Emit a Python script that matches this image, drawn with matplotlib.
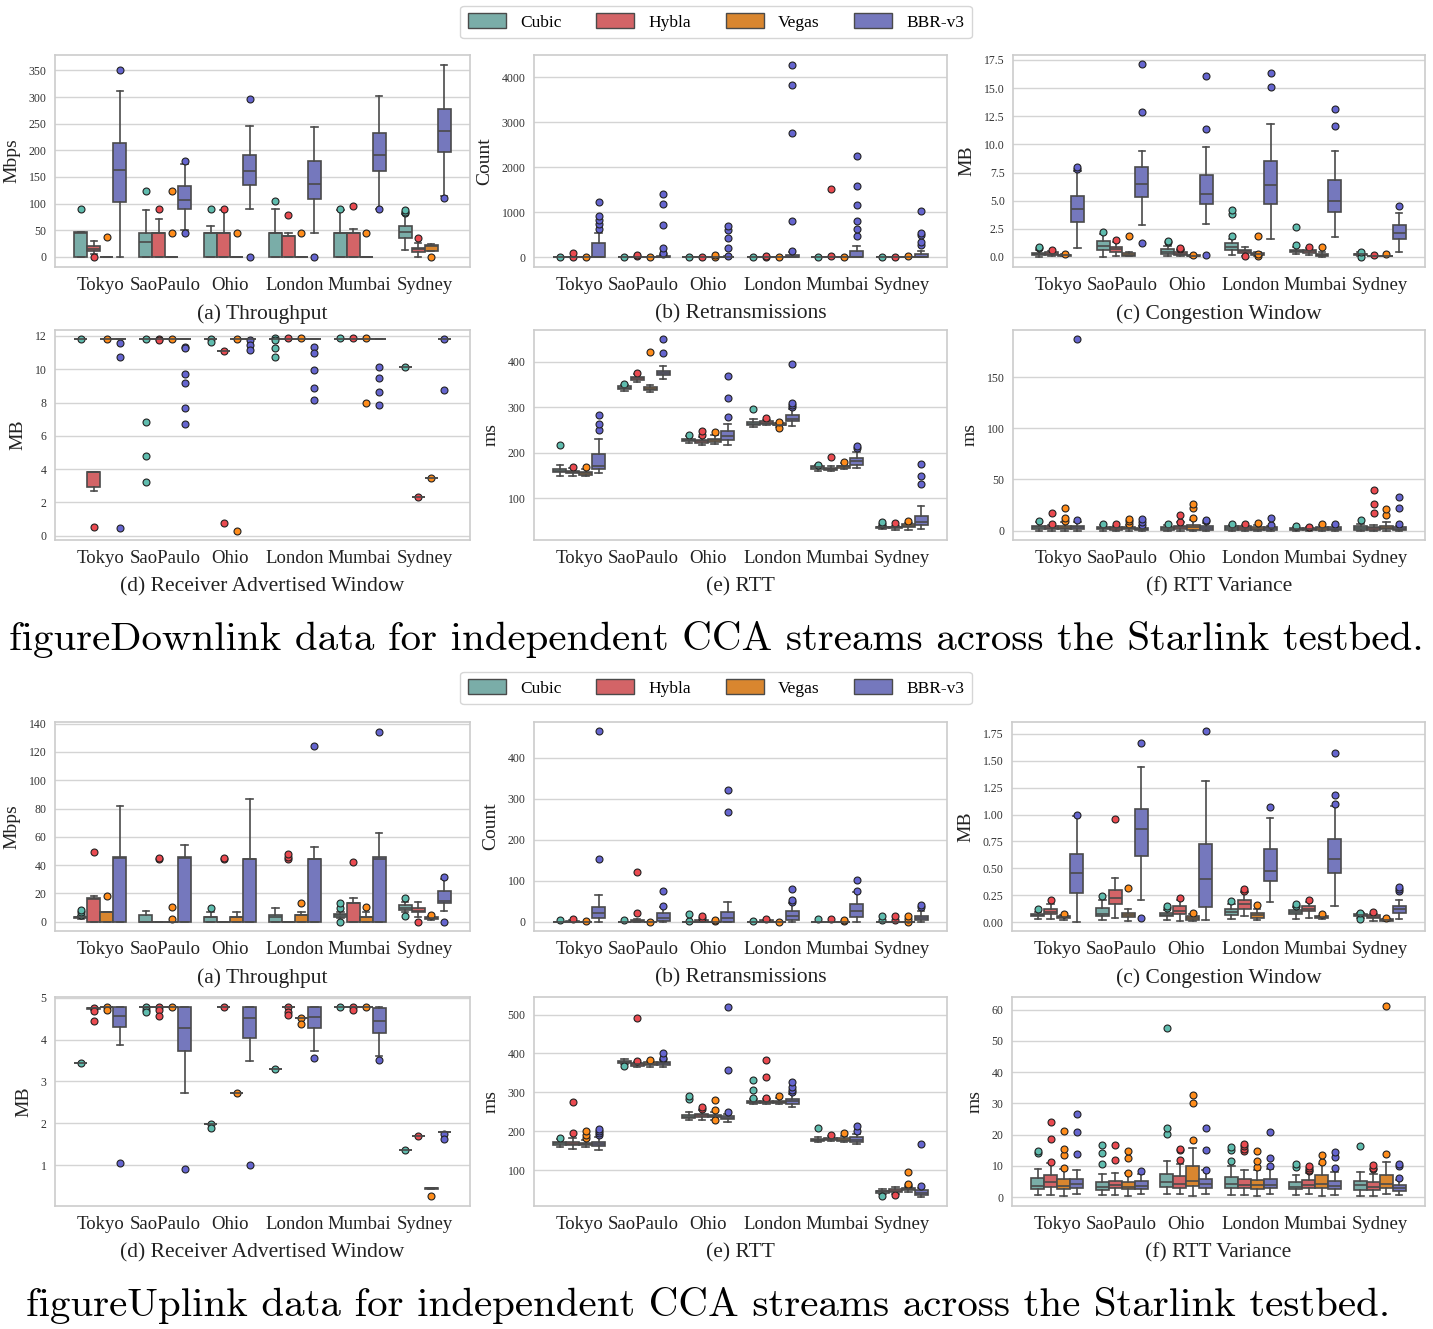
import matplotlib
matplotlib.use("Agg")
import matplotlib.pyplot as plt
from matplotlib.patches import Patch

# ---- data: each box is (whislo, q1, median, q3, whishi, [fliers]) ----
CITIES = ["Tokyo", "SaoPaulo", "Ohio", "London", "Mumbai", "Sydney"]
CCAS = ["Cubic", "Hybla", "Vegas", "BBR-v3"]
BOX_COLORS = ["#7aada8", "#d36467", "#d9862f", "#7578bd"]
DOT_COLORS = ["#5fbcae", "#ea4a50", "#ff8c1a", "#6565cf"]

Z = (0, 0, 0, 0, 0)

# Downlink
dl_tput = {
    "Cubic": [(0, 0, 45, 46, 46, [90]), (0, 0, 28, 45, 88, [123]), (0, 0, 45, 45, 58, [89]),
              (0, 0, 45, 45, 90, [105]), (0, 0, 45, 45, 88, [89]), (12, 36, 47, 58, 80, [82, 85, 88])],
    "Hybla": [(5, 11, 15, 20, 30, [0]), (0, 0, 45, 45, 71, [90]), (0, 0, 45, 45, 88, [90]),
              (0, 0, 39, 39, 44, [79]), (0, 0, 45, 45, 52, [96]), (0, 10, 14, 17, 26, [35])],
    "Vegas": [(*Z, [38]), (*Z, [44, 123]), (*Z, [44]), (*Z, [44]), (*Z, [44]), (11, 11, 21, 22, 24, [0])],
    "BBR-v3": [(0, 103, 163, 213, 312, [351]), (50, 90, 107, 134, 175, [44, 180]),
               (90, 135, 161, 192, 246, [0, 296]), (44, 108, 137, 180, 244, [0]),
               (90, 161, 192, 233, 302, [90]), (115, 196, 237, 278, 361, [110])],
}
dl_retx = {
    "Cubic": [(*Z, [5]), (*Z, [5]), (*Z, [0]), (*Z, [5]), (*Z, [5]), (*Z, [10])],
    "Hybla": [(*Z, [5, 90]), (*Z, [20, 40]), (*Z, [10]), (*Z, [10, 30]), (*Z, [30, 1520]), (*Z, [5])],
    "Vegas": [(*Z, [5]), (*Z, [10]), (*Z, [10, 40]), (*Z, [5]), (*Z, [5]), (*Z, [20])],
    "BBR-v3": [(0, 0, 0, 320, 540, [620, 730, 830, 920, 1230]),
               (0, 0, 0, 20, 40, [60, 100, 200, 720, 1170, 1400]),
               (0, 0, 0, 5, 20, [30, 200, 420, 600, 680]),
               (0, 0, 0, 50, 120, [140, 810, 2770, 3830, 4270]),
               (0, 0, 0, 130, 240, [470, 620, 810, 1160, 1590, 2240]),
               (0, 0, 0, 70, 130, [270, 330, 480, 540, 1020])],
}
dl_cwnd = {
    "Cubic": [(0, 0.15, 0.25, 0.35, 0.6, [0.8, 0.9]), (0, 0.6, 1.0, 1.4, 2.0, [2.2]),
              (0.1, 0.3, 0.45, 0.7, 0.95, [1.3, 1.4]), (0.2, 0.65, 0.9, 1.2, 1.6, [1.85, 3.85, 4.2]),
              (0.3, 0.4, 0.55, 0.65, 0.9, [1.05, 2.65]), (0.05, 0.15, 0.25, 0.3, 0.4, [0.0, 0.45])],
    "Hybla": [(0.1, 0.2, 0.3, 0.4, 0.55, [0.6]), (0.1, 0.45, 0.7, 0.9, 1.35, [1.5]),
              (0.1, 0.2, 0.3, 0.4, 0.6, [0.75, 0.8]), (0.1, 0.35, 0.5, 0.65, 0.9, [0.05]),
              (0.2, 0.35, 0.5, 0.65, 0.8, [0.9]), (0.08, 0.1, 0.1, 0.12, 0.12, [0.15])],
    "Vegas": [(0.05, 0.1, 0.15, 0.2, 0.25, [0.3]), (0.05, 0.1, 0.2, 0.35, 0.4, [1.9]),
              (0.0, 0.05, 0.1, 0.15, 0.2, [0.2]), (0.1, 0.15, 0.25, 0.35, 0.45, [0.05, 0.3, 1.9]),
              (0.0, 0.05, 0.15, 0.3, 0.4, [0.85]), (0.08, 0.1, 0.1, 0.12, 0.12, [0.3])],
    "BBR-v3": [(0.8, 3.1, 4.3, 5.45, 7.6, [7.8, 7.95]), (2.8, 5.35, 6.45, 7.95, 9.45, [1.25, 12.9, 17.1]),
               (2.9, 4.7, 5.6, 7.25, 9.75, [0.15, 11.4, 16.1]), (1.6, 4.7, 6.35, 8.5, 11.85, [15.1, 16.35]),
               (1.8, 4.0, 5.0, 6.8, 9.4, [11.6, 13.1]), (0.45, 1.6, 2.1, 2.8, 3.95, [4.55])],
}
dl_rwnd = {
    "Cubic": [(11.8,) * 5 + ([11.8],), (11.8,) * 5 + ([11.8, 6.85, 4.8, 3.2],), (11.8,) * 5 + ([11.8, 11.65],),
              (11.8,) * 5 + ([11.85, 11.75, 11.25, 10.75],), (11.8,) * 5 + ([11.85],), (10.15,) * 5 + ([10.15],)],
    "Hybla": [(2.7, 2.95, 3.8, 3.8, 3.8, [0.55]), (11.8,) * 5 + ([11.8, 11.75],), (11.1,) * 5 + ([11.1, 0.75],),
              (11.8,) * 5 + ([11.85],), (11.8,) * 5 + ([11.85],), (2.35,) * 5 + ([2.35],)],
    "Vegas": [(11.8,) * 5 + ([11.8],), (11.8,) * 5 + ([11.8],), (11.8,) * 5 + ([11.8, 0.3],),
              (11.8,) * 5 + ([11.85],), (11.8,) * 5 + ([11.85, 8.0],), (3.45,) * 5 + ([3.45],)],
    "BBR-v3": [(11.8,) * 5 + ([11.55, 10.75, 0.45],), (11.8,) * 5 + ([11.35, 11.25, 9.7, 9.2, 7.7, 6.7],),
               (11.8,) * 5 + ([11.75, 11.45, 11.15],), (11.8,) * 5 + ([11.35, 11.0, 9.95, 8.9, 8.15],),
               (11.8,) * 5 + ([10.15, 9.45, 8.65, 7.85],), (11.8,) * 5 + ([11.8, 8.75],)],
}
dl_rtt = {
    "Cubic": [(150, 157, 160, 165, 174, [216]), (336, 340, 343, 346, 349, [352]), (222, 226, 229, 231, 236, [240]),
              (257, 261, 264, 268, 274, [297]), (161, 165, 168, 170, 173, [174]), (32, 34, 36, 38, 40, [44, 48])],
    "Hybla": [(150, 155, 157, 160, 166, [168]), (356, 360, 364, 367, 372, [376]), (218, 221, 225, 228, 234, [240, 248]),
              (260, 263, 266, 269, 272, [277]), (160, 162, 164, 167, 172, [190]), (30, 35, 36, 38, 40, [46])],
    "Vegas": [(148, 152, 155, 158, 164, [168]), (333, 338, 341, 345, 349, [421]), (220, 223, 227, 231, 238, [245]),
              (257, 260, 262, 265, 265, [255, 268]), (164, 167, 170, 172, 177, [180]), (30, 38, 40, 44, 46, [50])],
    "BBR-v3": [(155, 165, 172, 198, 231, [249, 264, 284]), (361, 370, 375, 380, 390, [419, 449]),
               (218, 228, 236, 247, 264, [279, 320, 368]), (259, 269, 275, 284, 297, [300, 304, 309, 394]),
               (167, 174, 181, 188, 201, [211, 215]), (32, 42, 47, 61, 83, [132, 150, 176])],
}
dl_rttvar = {
    "Cubic": [(0, 1.5, 3.5, 5, 8, [9.5]), (0, 1.5, 3, 4, 6, [7]), (0, 1, 2.5, 4, 5.5, [6.5]),
              (0, 1, 3, 4.5, 5.5, [6.5]), (0, 0.5, 2, 3, 4, [5]), (0, 1, 3, 4.5, 7, [10])],
    "Hybla": [(0, 1.5, 3, 5, 6, [7, 17]), (0, 1, 2.5, 3.5, 5, [6.5]), (0, 1.5, 3.5, 5, 8, [8.5, 15]),
              (0, 1, 3, 4.5, 6, [7]), (0, 0.5, 2, 3, 3.5, [4]), (0, 1, 2.5, 4, 6, [17, 26.5, 39.5])],
    "Vegas": [(0, 1.5, 3, 5, 8, [9, 12, 22]), (0, 1.5, 3, 4, 6, [7, 9, 11]), (0, 1, 3.5, 6, 10, [12.5, 22, 26.5]),
              (0, 0.5, 2, 3.5, 6, [7.5]), (0, 1, 2.5, 4, 5.5, [6.5]), (0, 1.5, 3, 5, 8, [15, 21])],
    "BBR-v3": [(0, 1.5, 3.5, 5, 8, [10, 187]), (0, 0.5, 1.5, 3, 5, [6, 8.5, 11]), (0, 1, 3, 4.5, 7.5, [9, 10]),
               (0, 0.5, 2.5, 4, 5, [6, 12]), (0, 0.5, 2, 3.5, 5.5, [6.5]), (0, 0.5, 2, 3.5, 5, [7, 22, 33])],
}

# Uplink
ul_tput = {
    "Cubic": [(2, 2.5, 3, 3.5, 4, [5, 6.5, 8]), (0, 0, 0, 5, 7.5, []), (0, 0, 3, 3.5, 7, [9.5]),
              (0, 0, 3.5, 5, 10, []), (2.5, 3.5, 4.5, 5.5, 6.5, [0, 9.5, 13.5]), (6.5, 8, 10, 11.5, 14, [4, 16.5])],
    "Hybla": [(0, 0, 16, 16.5, 18.5, [49]), (*Z, [44, 45]), (*Z, [44, 45]), (*Z, [44, 46, 48]),
              (0, 0, 13, 13.5, 16.5, [42]), (3, 6.5, 7.5, 10, 14, [0])],
    "Vegas": [(0, 0, 6.5, 6.6, 7, [18]), (*Z, [2, 10.5]), (0, 0, 3.5, 3.5, 6.5, []),
              (0, 0, 5, 5, 6.5, [13.5]), (0, 0, 3.5, 3.5, 7, [10.5]), (1, 2, 2.5, 3.5, 4, [5])],
    "BBR-v3": [(0, 0, 45, 45.5, 82, []), (0, 0, 45, 45.5, 54.5, []), (0, 0, 44, 44, 87, []),
               (0, 0, 44, 44, 53, [124]), (0, 0, 44, 45.5, 63, [134]), (7.5, 13.5, 14.5, 22, 30, [0, 31.5])],
}
ul_retx = {
    "Cubic": [(*Z, [3]), (*Z, [4]), (*Z, [2, 19]), (*Z, [2]), (*Z, [7]), (*Z, [4, 14])],
    "Hybla": [(0, 0, 0, 2, 3, [7]), (0, 0, 1, 4, 6, [20, 120]), (0, 0, 0, 3, 4, [10, 15]),
              (0, 0, 0, 3, 4, [7]), (*Z, [7]), (*Z, [5, 15])],
    "Vegas": [(*Z, [1]), (*Z, [0]), (*Z, [1, 3]), (*Z, [0]), (*Z, [1, 5]), (*Z, [0, 7, 13])],
    "BBR-v3": [(0, 9, 20, 37, 66, [154, 464]), (0, 2, 10, 20, 35, [38, 74]), (0, 0, 10, 24, 49, [267, 320]),
               (0, 5, 15, 25, 45, [47, 53, 80]), (0, 12, 25, 42, 72, [76, 102]), (0, 5, 10, 15, 27, [35, 40])],
}
ul_cwnd = {
    "Cubic": [(0.03, 0.06, 0.07, 0.08, 0.1, [0.12]), (0.02, 0.055, 0.08, 0.13, 0.21, [0.24]),
              (0.02, 0.055, 0.07, 0.085, 0.115, [0.13, 0.15]), (0.03, 0.07, 0.095, 0.125, 0.17, [0.195]),
              (0.035, 0.075, 0.095, 0.115, 0.145, [0.155, 0.175]), (0.04, 0.055, 0.065, 0.075, 0.085, [0.03, 0.09])],
    "Hybla": [(0.03, 0.08, 0.1, 0.12, 0.17, [0.21]), (0.045, 0.17, 0.225, 0.3, 0.415, [0.96]),
              (0.01, 0.075, 0.11, 0.15, 0.21, [0.23]), (0.055, 0.125, 0.17, 0.205, 0.28, [0.29, 0.31]),
              (0.045, 0.105, 0.125, 0.155, 0.19, [0.21]), (0.01, 0.04, 0.05, 0.065, 0.08, [0.1])],
    "Vegas": [(0.02, 0.04, 0.05, 0.06, 0.07, [0.08]), (0.01, 0.05, 0.065, 0.085, 0.12, [0.32]),
              (0.01, 0.025, 0.04, 0.055, 0.075, [0.09]), (0.02, 0.045, 0.065, 0.085, 0.12, [0.16]),
              (0.035, 0.04, 0.05, 0.055, 0.06, [0.08]), (0.01, 0.015, 0.02, 0.03, 0.035, [0.045])],
    "BBR-v3": [(0.005, 0.27, 0.46, 0.63, 0.99, [1.0]), (0.21, 0.62, 0.87, 1.05, 1.44, [0.045, 1.665]),
               (0.02, 0.145, 0.4, 0.725, 1.31, [1.77]), (0.185, 0.38, 0.48, 0.685, 0.97, [1.07]),
               (0.15, 0.455, 0.59, 0.77, 1.075, [1.1, 1.185, 1.575]), (0.03, 0.085, 0.12, 0.15, 0.205, [0.29, 0.31, 0.33])],
}
ul_rwnd = {
    "Cubic": [(3.43,) * 5 + ([3.43],), (4.78,) * 5 + ([4.78, 4.7, 4.65],), (1.98,) * 5 + ([1.98, 1.88],),
              (3.3,) * 5 + ([3.3],), (4.78,) * 5 + ([4.78],), (1.36,) * 5 + ([1.36],)],
    "Hybla": [(4.72, 4.74, 4.75, 4.76, 4.76, [4.75, 4.68, 4.45]), (4.78,) * 5 + ([4.78, 4.7, 4.56],),
              (4.78,) * 5 + ([4.78],), (4.78,) * 5 + ([4.78, 4.65, 4.58],), (4.78,) * 5 + ([4.78, 4.7],),
              (1.69,) * 5 + ([1.69],)],
    "Vegas": [(4.78,) * 5 + ([4.78, 4.72],), (4.78,) * 5 + ([4.78],), (2.72,) * 5 + ([2.72],),
              (4.52,) * 5 + ([4.52, 4.38],), (4.78,) * 5 + ([4.78],), (0.42, 0.43, 0.44, 0.45, 0.45, [0.25])],
    "BBR-v3": [(3.88, 4.3, 4.57, 4.78, 4.78, [1.05]), (2.72, 3.72, 4.27, 4.78, 4.78, [0.9]),
               (3.5, 4.05, 4.52, 4.78, 4.78, [1.0]), (3.74, 4.27, 4.55, 4.78, 4.78, [3.55]),
               (3.62, 4.17, 4.44, 4.76, 4.78, [3.52]), (1.79,) * 5 + ([1.75, 1.62],)],
}
ul_rtt = {
    "Cubic": [(160, 165, 170, 174, 180, [184]), (372, 376, 378, 380, 385, [368]), (229, 235, 238, 241, 250, [284, 290]),
              (270, 273, 276, 279, 284, [287, 307, 333]), (172, 175, 178, 181, 186, [209]), (40, 43, 46, 48, 53, [35])],
    "Hybla": [(155, 164, 168, 172, 182, [197, 276]), (365, 369, 372, 375, 378, [381, 490]),
              (229, 238, 241, 245, 255, [258, 262]), (270, 273, 276, 279, 284, [286, 340, 382]),
              (175, 178, 181, 184, 188, [190]), (40, 45, 48, 51, 58, [38])],
    "Vegas": [(160, 164, 167, 171, 178, [182, 190, 202]), (366, 371, 374, 377, 381, [384]),
              (230, 237, 240, 243, 250, [229, 254, 280]), (270, 273, 276, 279, 286, [290]),
              (172, 176, 179, 182, 188, [197]), (45, 50, 52, 55, 58, [62, 65, 96])],
    "BBR-v3": [(153, 162, 167, 174, 185, [190, 197, 202, 205]), (366, 371, 375, 378, 383, [385, 388, 400]),
               (224, 231, 235, 240, 245, [249, 358, 520]), (262, 271, 277, 283, 296, [302, 307, 313, 328]),
               (167, 174, 179, 185, 194, [200, 215]), (32, 38, 43, 49, 55, [60, 168])],
}
ul_rttvar = {
    "Cubic": [(0.8, 2.5, 3.7, 6, 9, [14, 14.7]), (0.7, 2.3, 3.3, 5, 7.5, [10.5, 14, 16.8]),
              (1.1, 3.2, 4.9, 7.4, 11.6, [20.3, 22, 54.1]), (0.7, 2.9, 4.2, 6.5, 10, [11.6, 15.2, 16]),
              (0.7, 2.6, 3.4, 5, 7.2, [9.8, 10.6]), (0.4, 2.3, 4, 5.3, 8, [16.4])],
    "Hybla": [(0.8, 3.3, 4.8, 7.2, 11, [11.2, 18.5, 24]), (0.7, 2.8, 3.8, 5.3, 7.8, [12, 16.6]),
              (1.0, 2.9, 4.3, 6.8, 10.7, [12, 15.2, 15.5]), (0.7, 2.9, 3.8, 5.7, 8.8, [14.8, 15.5, 16.3, 17]),
              (1.0, 2.9, 4, 5.6, 7.9, [8.3, 8.8, 9.5, 10]), (0.4, 2.3, 3.3, 4.8, 7.5, [8.9, 9.5, 10.3])],
    "Vegas": [(0.4, 2.5, 3.5, 5.8, 9, [9.5, 13.5, 15.5, 21.2]), (0.3, 2.5, 3.3, 4.8, 7.6, [7.8, 12.5, 14.9]),
              (0.4, 3.5, 5.2, 10, 15.7, [18.3, 30.2, 32.6]), (0.4, 2.5, 3.8, 5.4, 8.7, [9.6, 11.7, 14.7]),
              (0.4, 2.9, 4.2, 7.1, 10.5, [11.2, 13.5]), (1.0, 2.9, 4.3, 7.2, 11.2, [13.9, 61])],
    "BBR-v3": [(1.0, 2.8, 4.2, 5.8, 8.8, [13.8, 21, 26.7]), (1.0, 2.6, 3.6, 5.2, 7.5, [8.5]),
               (1.0, 2.9, 4.2, 5.9, 8.6, [8.8, 15, 22.1]), (1.0, 2.9, 3.8, 5.8, 8.9, [9.9, 12.7, 20.8]),
               (0.7, 2.6, 3.6, 5.3, 8.1, [9.4, 13, 14.4]), (0.7, 1.9, 2.8, 3.9, 5.5, [6.2, 9.9, 10.7])],
}

PANELS = [
    # (data, ylabel, subcaption, ylim, yticks, tick format, axes box in px: x0, y0, x1, y1)
    (dl_tput, "Mbps", "(a) Throughput", (-19, 379), range(0, 351, 50), "{:.0f}", (55, 55, 470, 267)),
    (dl_retx, "Count", "(b) Retransmissions", (-222, 4496), range(0, 4001, 1000), "{:.0f}", (534, 55, 947, 267)),
    (dl_cwnd, "MB", "(c) Congestion Window", (-0.89, 17.94), [0, 2.5, 5, 7.5, 10, 12.5, 15, 17.5], "{:.1f}", (1013, 55, 1425, 267)),
    (dl_rwnd, "MB", "(d) Receiver Advertised Window", (-0.26, 12.36), range(0, 13, 2), "{:.0f}", (55, 330, 470, 540)),
    (dl_rtt, "ms", "(e) RTT", (8.5, 469.5), range(100, 401, 100), "{:.0f}", (534, 330, 947, 540)),
    (dl_rttvar, "ms", "(f) RTT Variance", (-9.1, 196), range(0, 151, 50), "{:.0f}", (1013, 330, 1425, 540)),
    (ul_tput, "Mbps", "(a) Throughput", (-6.6, 141.2), range(0, 141, 20), "{:.0f}", (55, 722, 470, 931)),
    (ul_retx, "Count", "(b) Retransmissions", (-22.7, 486.8), range(0, 401, 100), "{:.0f}", (534, 722, 947, 931)),
    (ul_cwnd, "MB", "(c) Congestion Window", (-0.08, 1.858), [0, 0.25, 0.5, 0.75, 1.0, 1.25, 1.5, 1.75], "{:.2f}", (1012, 722, 1425, 931)),
    (ul_rwnd, "MB", "(d) Receiver Advertised Window", (0.02, 5.02), range(1, 6), "{:.0f}", (55, 997, 470, 1206)),
    (ul_rtt, "ms", "(e) RTT", (8.5, 545), range(100, 501, 100), "{:.0f}", (534, 997, 947, 1206)),
    (ul_rttvar, "ms", "(f) RTT Variance", (-2.8, 64), range(0, 61, 10), "{:.0f}", (1012, 997, 1425, 1206)),
]

W, H = 1433, 1329
SERIF = ["Liberation Serif", "DejaVu Serif"]
EDGE = "#4a4a4a"
OFFSETS = [-0.3, -0.1, 0.1, 0.3]


def draw_panel(fig, data, ylabel, sub, ylim, yticks, fmt, box):
    x0, y0, x1, y1 = box
    ax = fig.add_axes([x0 / W, 1 - y1 / H, (x1 - x0) / W, (y1 - y0) / H])
    ax.set_axisbelow(True)
    ax.yaxis.grid(True, color="#d4d4d4", lw=1.0)
    for s in ax.spines.values():
        s.set_color("#cccccc")
        s.set_linewidth(1.2)
    for k, cca in enumerate(CCAS):
        stats = []
        for lo, q1, med, q3, hi, fl in data[cca]:
            stats.append(dict(whislo=lo, q1=q1, med=med, q3=q3, whishi=hi, fliers=fl))
        pos = [i + OFFSETS[k] for i in range(len(CITIES))]
        ax.bxp(stats, positions=pos, widths=0.2, patch_artist=True, manage_ticks=False,
               boxprops=dict(facecolor=BOX_COLORS[k], edgecolor=EDGE, linewidth=1.2),
               medianprops=dict(color=EDGE, linewidth=1.2),
               whiskerprops=dict(color=EDGE, linewidth=1.2),
               capprops=dict(color=EDGE, linewidth=1.2),
               flierprops=dict(marker="o", markersize=5, markerfacecolor=DOT_COLORS[k],
                               markeredgecolor="#222222", markeredgewidth=0.8))
    ax.set_xlim(-0.7, 5.7)
    ax.set_ylim(*ylim)
    ax.set_xticks(range(len(CITIES)))
    ax.set_xticklabels(CITIES, fontsize=13.5, family=SERIF, color="#222222")
    yt = list(yticks)
    ax.set_yticks(yt)
    ax.set_yticklabels([fmt.format(t) for t in yt], fontsize=8.5, family=SERIF, color="#333333")
    ax.tick_params(length=0, pad=6)
    ax.tick_params(axis="x", pad=7)
    ax.set_ylabel(ylabel, fontsize=14, family=SERIF, color="#222222", labelpad=6)
    cx = (x0 + x1) / 2 / W
    fig.text(cx, 1 - (y1 + 47) / H, sub, ha="center", va="center", fontsize=15.5,
             family=SERIF, color="#222222")
    return ax


fig = plt.figure(figsize=(W / 100, H / 100), dpi=100)
fig.patch.set_facecolor("white")

for data, ylabel, sub, ylim, yticks, fmt, box in PANELS:
    draw_panel(fig, data, ylabel, sub, ylim, yticks, fmt, box)

handles = [Patch(facecolor=c, edgecolor=EDGE, linewidth=1.0, label=n) for c, n in zip(BOX_COLORS, CCAS)]
for yc in (22, 688):
    fig.legend(handles=handles, loc="center", bbox_to_anchor=(716 / W, 1 - yc / H), ncol=4,
               prop={"family": SERIF, "size": 12.5}, frameon=True, edgecolor="#cccccc",
               handlelength=2.2, handleheight=0.9, handletextpad=0.8, columnspacing=2.0,
               borderpad=0.45)

fig.text(716 / W, 1 - 640 / H, "figureDownlink data for independent CCA streams across the Starlink testbed.",
         ha="center", va="center", fontsize=29.5, family="cmr10", color="black")
fig.text(708 / W, 1 - 1306 / H, "figureUplink data for independent CCA streams across the Starlink testbed.",
         ha="center", va="center", fontsize=29.5, family="cmr10", color="black")

fig.savefig("out.png", dpi=100, facecolor="white")
